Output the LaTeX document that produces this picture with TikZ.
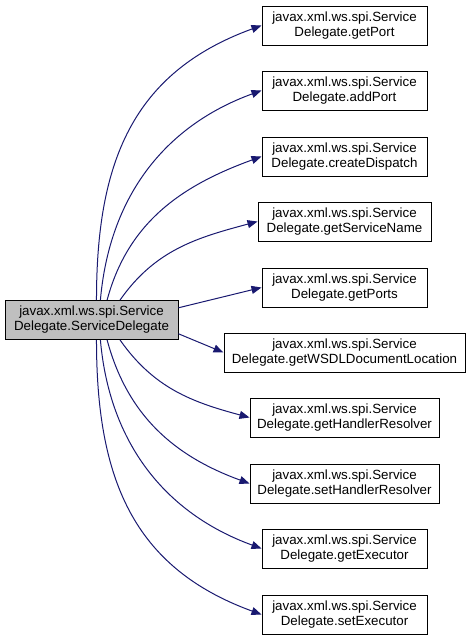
\documentclass[tikz,border=0pt]{standalone}
\usepackage{fontspec}
\setmainfont{Liberation Sans}
\usetikzlibrary{arrows.meta}
\definecolor{edgeblue}{HTML}{191970}
\definecolor{nodegray}{HTML}{BFBFBF}
\tikzset{
  member/.style={draw,fill=white,align=center,inner xsep=3pt,inner ysep=0pt,
    line width=0.75pt,minimum height=29.25pt,font=\fontsize{10}{11.2}\selectfont},
  caller/.style={member,fill=nodegray},
  call/.style={draw=edgeblue,line width=0.75pt,
    -{Triangle[length=7.5pt,width=6pt]},fill=none}
}

\begin{document}
\begin{tikzpicture}[x=0.75pt,y=-0.75pt]
  \useasboundingbox (0,0) rectangle (471,640);
  \node[caller,minimum width=129.75pt] (main) at (91.5,320)
    {javax.xml.ws.spi.Service\\Delegate.ServiceDelegate};
  \foreach \name/\ypos/\boxw in {getPort/25.5/123.75,addPort/90.5/123.75,
      createDispatch/156.5/123.75,getServiceName/221.5/129.75,
      getPorts/287.5/123.75,getWSDLDocumentLocation/352.5/180.75,
      getHandlerResolver/417.5/141.75,setHandlerResolver/483.5/141.75,
      getExecutor/548.5/123.75,setExecutor/614.5/123.75}
    \node[member,minimum width=\boxw pt] (\name) at (344.5,\ypos)
      {javax.xml.ws.spi.Service\\Delegate.\name};
  % calls
  \draw[call] (main.76) to[out=90,in=200,looseness=1.1] (getPort.west);
  \draw[call] (main.66) to[out=85,in=200] (addPort.west);
  \draw[call] (main.52) to[out=75,in=200] (createDispatch.west);
  \draw[call] (main.35) to[out=55,in=195] (getServiceName.west);
  \draw[call] (main.8) -- (getPorts.west);
  \draw[call] (main.-9) -- (getWSDLDocumentLocation.west);
  \draw[call] (main.-35) to[out=-55,in=165] (getHandlerResolver.west);
  \draw[call] (main.-52) to[out=-75,in=160] (setHandlerResolver.west);
  \draw[call] (main.-66) to[out=-85,in=160] (getExecutor.west);
  \draw[call] (main.-76) to[out=-90,in=160,looseness=1.1] (setExecutor.west);
\end{tikzpicture}
\end{document}
